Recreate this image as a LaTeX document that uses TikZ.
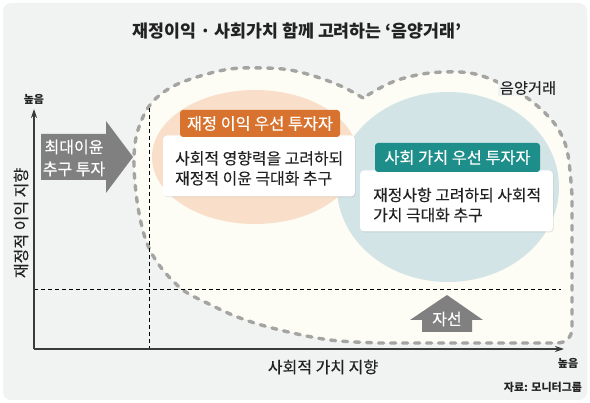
\documentclass[tikz,border=0pt]{standalone}
\usepackage{fontspec}
\setmainfont{Noto Sans CJK KR}
\newfontfamily\krmed[FakeBold=0.35]{Noto Sans CJK KR}
\newfontfamily\krsemi[FakeBold=0.15]{Noto Sans CJK KR}
\usetikzlibrary{arrows.meta,shadows}
\definecolor{panel}{HTML}{F1F3F2}
\definecolor{blobfill}{HTML}{FDFCF5}
\definecolor{blobline}{HTML}{A4A4A2}
\definecolor{peach}{HTML}{F9DFC9}
\definecolor{paleblue}{HTML}{D3E4E6}
\definecolor{orangelab}{HTML}{D8732F}
\definecolor{teallab}{HTML}{1E8E8B}
\definecolor{arrowgray}{HTML}{808080}
\definecolor{axisc}{HTML}{3A3A3A}
\definecolor{txt}{HTML}{222222}
\tikzset{
  axisline/.style={draw=axisc, line width=1.3pt, -{Stealth[length=9pt,width=6pt]}},
  guide/.style={draw=black, line width=0.8pt, dash pattern=on 4pt off 3pt},
  blobstyle/.style={fill=blobfill, draw=blobline, line width=3.4pt, line cap=round, dash pattern=on 5pt off 7pt},
  whitebox/.style={fill=white, rounded corners=4pt, drop shadow={shadow xshift=0.8pt, shadow yshift=-1pt, opacity=0.18}},
  labbox/.style={rounded corners=3pt, text=white, font=\krmed\fontsize{16.3}{19}\selectfont, inner sep=0pt},
  bodytext/.style={text=txt, font=\krsemi\fontsize{15.9}{20}\selectfont, align=left, inner sep=0pt},
  small/.style={text=txt, font=\fontsize{11}{13}\selectfont\bfseries, inner sep=0pt},
  axislabel/.style={text=txt, font=\krsemi\fontsize{16}{18}\selectfont, inner sep=0pt},
}
\begin{document}
\begin{tikzpicture}[x=1pt,y=-1pt]
\useasboundingbox (0,0) rectangle (590,403);
\fill[white] (0,0) rectangle (590,403);
\fill[panel, rounded corners=8pt] (3,3) rectangle (587,400);

% title
\node[text=txt, font=\fontsize{17.3}{20}\selectfont\bfseries, inner sep=0pt] (title) at (297,31) {재정이익 · 사회가치 함께 고려하는 ‘음양거래’};

% blob (음양거래 region)
\path[blobstyle]
  plot[smooth, tension=0.6] coordinates {(363,98) (343,87) (317,77) (290,70) (263,68) (230,69) (197,77) (170,88) (150,105) (138,130) (134,157) (136,193) (142,227) (150,250) (163,270) (183,290) (207,303) (240,318) (280,330) (330,340) (380,343)}
  -- (557,343) .. controls (566,343) and (572,337) .. (572,328)
  -- (572,195)
  -- plot[smooth, tension=0.6] coordinates {(572,195) (568,155) (560,132) (547,115) (530,100) (517,92) (493,80) (470,73) (443,72) (417,75) (390,83) (363,98)}
  -- cycle;

% coloured zones
\fill[peach] (255,157) ellipse [x radius=103, y radius=67];
\fill[paleblue] (448,187) ellipse [x radius=111, y radius=95];

\node[fill=panel, text=txt, font=\krsemi\fontsize{15.3}{17}\selectfont, inner sep=1.5pt] (yy) at (528,88) {음양거래};

% guide lines
\coordinate (vtop) at (149,108);
\coordinate (vbot) at (149,349);
\coordinate (hl) at (34,289);
\coordinate (hr) at (561,289);
\draw[guide] (vtop) -- (vbot);
\draw[guide] (hl) -- (hr);

% axes
\coordinate (O) at (34,349);
\coordinate (ytop) at (34,109);
\coordinate (xend) at (564,349);
\draw[axisline] (O) -- (ytop);
\draw[axisline] (O) -- (xend);
\node[small] (yhigh) at (34,99) {높음};
\node[small] (xhigh) at (568,363) {높음};
\node[axislabel] (xlab) at (323,367) {사회적 가치 지향};
\node[axislabel, rotate=90] (ylab) at (21,223) {재정적 이익 지향};
\node[small] (src) at (543,387) {자료: 모니터그룹};

% big gray arrow
\fill[arrowgray] (41,134) -- (106,134) -- (106,121) -- (133,157) -- (106,193) -- (106,180) -- (41,180) -- cycle;
\node[text=white, font=\krmed\fontsize{16}{22}\selectfont, align=center, inner sep=0pt] (maxprofit) at (74,158) {최대이윤\\추구 투자};

% charity arrow
\fill[arrowgray] (447,295) -- (483,320) -- (472,320) -- (472,332) -- (422,332) -- (422,320) -- (410,320) -- cycle;
\node[text=white, font=\krmed\fontsize{16}{18}\selectfont, inner sep=0pt] (charity) at (447,319) {자선};

% white boxes
\node[whitebox, minimum width=192pt, minimum height=61pt, inner sep=0pt] (box1) at (259,166) {};
\node[whitebox, minimum width=193pt, minimum height=61pt, inner sep=0pt] (box2) at (456.5,201) {};

% labels
\node[labbox, fill=orangelab, minimum width=160pt, minimum height=27pt] (olab) at (260,123.5) {재정 이익 우선 투자자};
\node[labbox, fill=teallab, minimum width=165pt, minimum height=29pt] (tlab) at (457.5,157.5) {사회 가치 우선 투자자};

% box texts
\node[bodytext, anchor=west] (t1) at (175,168.3) {사회적 영향력을 고려하되\\재정적 이윤 극대화 추구};
\node[bodytext, anchor=west] (t2) at (373,205) {재정사항 고려하되 사회적\\가치 극대화 추구};
\end{tikzpicture}
\end{document}
